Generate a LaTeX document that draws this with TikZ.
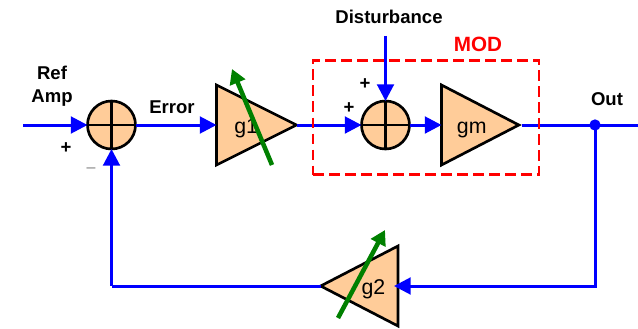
\documentclass[tikz,border=0pt]{standalone}
\usepackage{fontspec}
\setmainfont{Liberation Sans}
\usetikzlibrary{arrows.meta,positioning,shapes.geometric}

\begin{document}
\begin{tikzpicture}[
  x=0.75pt, y=-0.75pt,
  sumbox/.style={draw, line width=2pt, circle, fill=orange!40!white, minimum size=36pt, inner sep=0pt, outer sep=0pt,
    path picture={\draw[line width=2pt] (path picture bounding box.north) -- (path picture bounding box.south)
      (path picture bounding box.west) -- (path picture bounding box.east);}},
  amp/.style={draw, line width=2pt, isosceles triangle, isosceles triangle apex angle=54, isosceles triangle stretches,
    minimum width=60pt, minimum height=58pt, inner sep=0pt, outer sep=0pt, fill=orange!40!white,
    font=\fontsize{16}{16}\selectfont, text height=15pt, text depth=2pt},
  wire/.style={line width=2.25pt, blue},
  flow/.style={wire, -{Triangle[length=12.5pt, width=12.5pt]}},
  tune/.style={line width=3.4pt, green!50!black, -{Triangle[length=11pt, width=12pt]}},
  lbl/.style={font=\fontsize{13.9}{17.2}\selectfont\bfseries, align=center, inner sep=0pt}
]
  \useasboundingbox (0,0) rectangle (638,328);

  \node[sumbox] (sumref) at (111.5,125) {};
  \node[amp, minimum height=60pt, anchor=lower side] (gone) at (216.5,125) {\hspace*{8pt}g1};
  \node[sumbox] (summod) at (385.5,125) {};
  \node[amp, anchor=lower side] (gm) at (441.5,125) {\hspace*{8pt}gm};
  \node[amp, shape border rotate=180, anchor=lower side] (gtwo) at (398,286) {g2\hspace*{3pt}};
  \node[circle, fill=blue, minimum size=8.5pt, inner sep=0pt] (outdot) at (595,125) {};

  \coordinate (refin) at (23,125);
  \coordinate (outend) at (638,125);
  \coordinate (distin) at (385.5,36);
  \coordinate (outdown) at (595,286);
  \coordinate (fbcorner) at (111.5,286);

  \draw[flow] (refin) -- (sumref.west);
  \draw[flow] (sumref.east) -- (gone.lower side);
  \draw[flow] (gone.apex) -- (summod.west);
  \draw[flow] (distin) -- (summod.north);
  \draw[flow] (summod.east) -- (gm.lower side);
  \draw[wire, shorten <=2pt] (gm.apex) -- (outend);
  \draw[flow, shorten >=-3pt] (outdot.center) -- (outdown) -- (gtwo.lower side);
  \draw[wire] (gtwo.apex) -- (fbcorner);
  \draw[flow] (fbcorner) -- (sumref.south);

  % tuning arrows
  \coordinate (gonefrom) at (272,165);
  \coordinate (goneto) at (232,69);
  \coordinate (gtwofrom) at (338,318);
  \coordinate (gtwoto) at (385,230);
  \draw[tune] (gonefrom) -- (goneto);
  \draw[tune] (gtwofrom) -- (gtwoto);

  \node[draw=red, line width=2.1pt, dash pattern=on 8pt off 4pt, minimum width=169.5pt, minimum height=86pt] (modbox) at (426,117.5) {};

  \node[lbl, text=red, font=\fontsize{15.5}{16}\selectfont\bfseries, above=5pt of modbox.north, xshift=39pt] (modlabel) {MOD};
  \node[lbl] (reflabel) at (52,86) {Ref\\Amp};
  \node[lbl] (errlabel) at (172,107) {Error};
  \node[lbl] (distlabel) at (389,17) {Disturbance};
  \node[lbl] (outlabel) at (607,99) {Out};
  \node[lbl] (plusref) at (66,148) {+};
  \node[lbl, text=gray, font=\fontsize{12}{12}\selectfont] (minusref) at (91,170) {--};
  \node[lbl] (plustop) at (365,84) {+};
  \node[lbl] (plusleft) at (349,108) {+};
\end{tikzpicture}
\end{document}
